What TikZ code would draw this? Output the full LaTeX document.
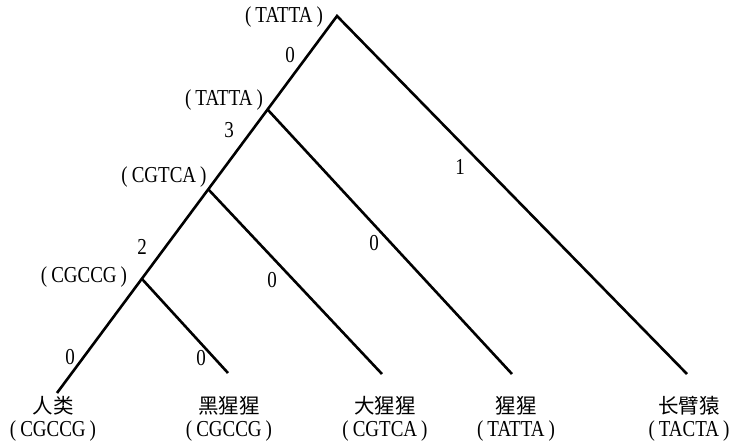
\documentclass[tikz,border=0pt]{standalone}
\usepackage{fontspec}
\setmainfont{Liberation Serif}
\newfontfamily\cjk{Noto Sans CJK SC}
\usepackage{graphicx}
\usepackage{tikz}
\usetikzlibrary{positioning}
\newcommand{\tallfont}[1]{\scalebox{1}[1.2]{#1}}
\newcommand{\seqtag}[1]{\tallfont{(\kern4pt#1\kern4pt)}}

\begin{document}
\begin{tikzpicture}[x=1pt, y=-1pt,
    branch/.style={line width=2.6pt, line join=miter},
    seqlabel/.style={font=\fontsize{19}{21}\selectfont, inner sep=0pt},
    costlabel/.style={font=\fontsize{19}{21}\selectfont, inner sep=0pt},
    species/.style={font=\cjk\fontsize{20.5}{22}\selectfont, inner sep=0pt}]
    \useasboundingbox (0,0) rectangle (732,442);

    % Ancestral nodes and leaf ends
    \coordinate (root) at (337,16);
    \coordinate (na) at (268,110);
    \coordinate (nb) at (208,189);
    \coordinate (nc) at (142,279);
    \coordinate (hum) at (57,393);
    \coordinate (chi) at (228,373);
    \coordinate (gor) at (382,374);
    \coordinate (ora) at (512,374);
    \coordinate (gib) at (687,374);

    % Branches
    \draw[branch] (hum) -- (root) -- (gib);
    \draw[branch] (na) -- (ora);
    \draw[branch] (nb) -- (gor);
    \draw[branch] (nc) -- (chi);

    % Inferred ancestral sequences
    \node[seqlabel] (lroot) at (284,17) {\seqtag{TATTA}};
    \node[seqlabel] (la) at (224,100) {\seqtag{TATTA}};
    \node[seqlabel] (lb) at (164,177) {\seqtag{CGTCA}};
    \node[seqlabel] (lc) at (84,277) {\seqtag{CGCCG}};

    % Substitution counts on the branches
    \foreach \x/\y/\n [count=\i] in {290/55/0, 229/130/3, 142/247/2, 70/357/0,
        201/358/0, 272/280/0, 374/243/0, 460/167/1}
        \node[costlabel] (c\i) at (\x,\y) {\tallfont{\n}};

    % Species names with their sequences
    \foreach \x/\name/\s/\id in {53/人类/CGCCG/hum, 229/黑猩猩/CGCCG/chi,
        385/大猩猩/CGTCA/gor, 516/猩猩/TATTA/ora, 689/长臂猿/TACTA/gib} {
        \node[species] (n\id) at (\x,406) {\name};
        \node[seqlabel, below=5pt of n\id] (s\id) {\seqtag{\s}};
    }
\end{tikzpicture}
\end{document}
